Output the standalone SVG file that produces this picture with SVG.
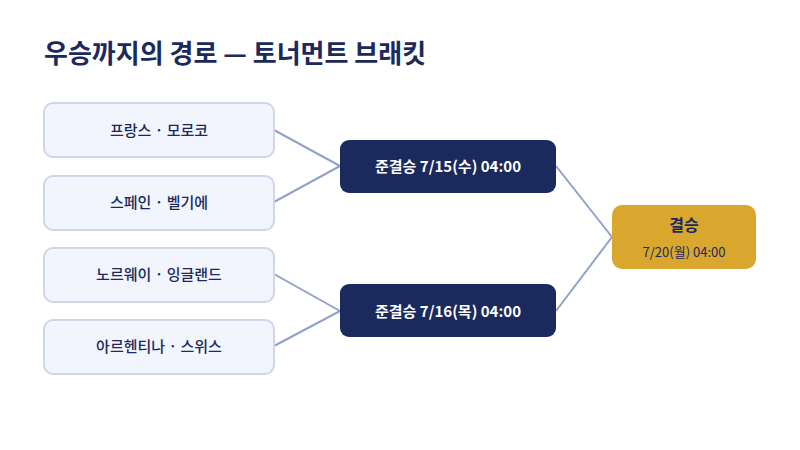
<svg xmlns="http://www.w3.org/2000/svg" width="800" height="450" viewBox="0 0 800 450">
<style>
text{font-family:"Noto Sans CJK KR","Noto Sans",sans-serif;text-anchor:middle}
.team rect{fill:#f2f5fd;stroke:#cfd6ea;stroke-width:2}
.team text{font-size:15px;fill:#1b2a5c;font-weight:500}
.semi rect{fill:#1b2a5c}
.semi text{font-size:15px;fill:#fff;font-weight:700}
.conn line{stroke:#8fa2c8;stroke-width:2}
</style>
<rect width="800" height="450" fill="#fff"/>
<text x="44" y="63" style="text-anchor:start;font-size:26px;font-weight:700;fill:#1b2a5c">우승까지의 경로 — 토너먼트 브래킷</text>
<g class="conn">
<line x1="274" y1="130" x2="340" y2="166"/>
<line x1="274" y1="202" x2="340" y2="166"/>
<line x1="274" y1="274" x2="340" y2="311"/>
<line x1="274" y1="346" x2="340" y2="311"/>
<line x1="556" y1="166" x2="612" y2="237"/>
<line x1="556" y1="311" x2="612" y2="237"/>
</g>
<g id="n1" class="team"><rect x="44" y="103" width="230" height="54" rx="9"/><text x="159" y="136">프랑스 · 모로코</text></g>
<g id="n2" class="team"><rect x="44" y="176" width="230" height="54" rx="9"/><text x="159" y="208">스페인 · 벨기에</text></g>
<g id="n3" class="team"><rect x="44" y="248" width="230" height="54" rx="9"/><text x="159" y="280">노르웨이 · 잉글랜드</text></g>
<g id="n4" class="team"><rect x="44" y="320" width="230" height="54" rx="9"/><text x="159" y="352">아르헨티나 · 스위스</text></g>
<g id="s1" class="semi"><rect x="340" y="140" width="216" height="53" rx="9"/><text x="448" y="172">준결승 7/15(수) 04:00</text></g>
<g id="s2" class="semi"><rect x="340" y="284" width="216" height="53" rx="9"/><text x="448" y="317">준결승 7/16(목) 04:00</text></g>
<g id="f"><rect x="612" y="205" width="144" height="64" rx="10" fill="#d9a62e"/><text x="684" y="231" style="font-size:16px;font-weight:700;fill:#1b2a5c">결승</text><text x="684" y="257" style="font-size:13px;fill:#1b2a5c">7/20(월) 04:00</text></g>
</svg>
